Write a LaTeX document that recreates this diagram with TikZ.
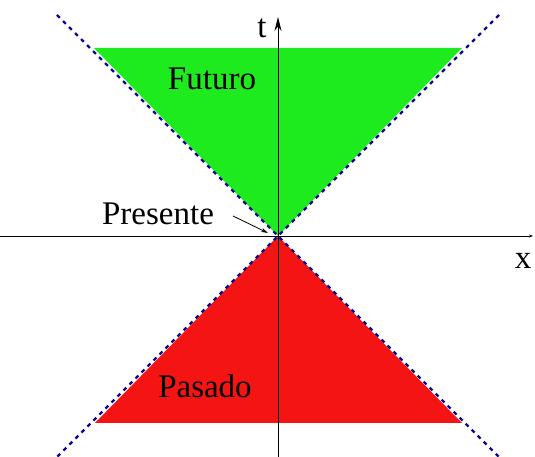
\documentclass[tikz,border=0pt]{standalone}
\usepackage{fontspec}
\setmainfont{Liberation Serif}
\usetikzlibrary{arrows.meta}
\definecolor{futgreen}{RGB}{30,235,30}
\definecolor{pasred}{RGB}{245,20,20}
\definecolor{conecol}{RGB}{10,10,140}
\tikzset{
  lbl/.style={inner sep=0pt, font=\fontsize{33}{40}\selectfont},
  cone/.style={conecol, line width=2.2pt, dash pattern=on 4pt off 4.5pt},
  axis/.style={black, line width=0.8pt},
}
\begin{document}
\begin{tikzpicture}[x=1pt,y=1pt]
\useasboundingbox (0,0) rectangle (535,457);
\coordinate (O) at (278,221);
% cones
\coordinate (fl) at (94,409);
\coordinate (fr) at (462,409);
\coordinate (pl) at (95,34);
\coordinate (pr) at (462,34);
\fill[futgreen] (O) -- (fl) -- (fr) -- cycle;
\fill[pasred] (O) -- (pl) -- (pr) -- cycle;
% light cone lines
\coordinate (c1) at (57,442);
\coordinate (c2) at (499,0);
\coordinate (c3) at (499,442);
\coordinate (c4) at (57,0);
\draw[cone] (c1) -- (c2);
\draw[cone] (c3) -- (c4);
% axes
\coordinate (xl) at (0,221);
\coordinate (xr) at (533,221);
\coordinate (tb) at (278,0);
\coordinate (tt) at (278,440);
\draw[axis, -{Stealth[length=4pt,width=3pt]}] (xl) -- (xr);
\draw[axis, -{Stealth[length=14pt,width=7pt]}] (tb) -- (tt);
% labels
\node[lbl] (t) at (262,429) {t};
\node[lbl] (x) at (523,196) {x};
\node[lbl] (fut) at (212,378) {Futuro};
\node[lbl] (pas) at (205,71) {Pasado};
\node[lbl] (pre) at (158,243) {Presente};
\coordinate (pa) at (233,241);
\draw[-{Stealth[length=7pt,width=4pt]}, line width=0.8pt] (pa) -- (268,224);
\end{tikzpicture}
\end{document}
